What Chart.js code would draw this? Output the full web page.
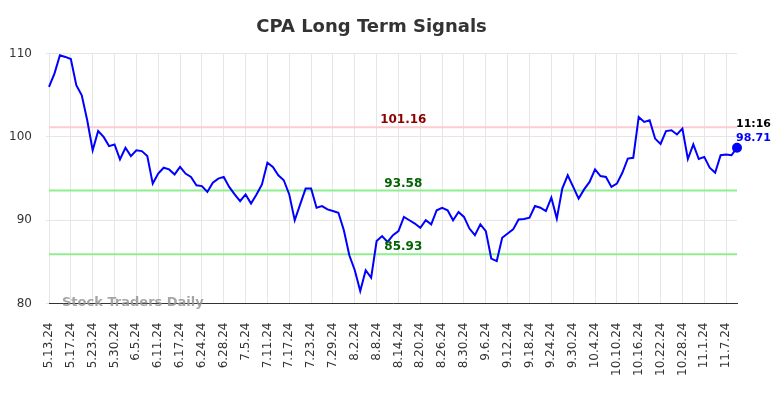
<!DOCTYPE html>
<html>
<head>
<meta charset="utf-8">
<script src="https://cdn.jsdelivr.net/npm/chart.js@4.4.1/dist/chart.umd.min.js"></script>
<style>
  html, body { margin: 0; padding: 0; background: #fff; }
  #wrap { width: 784px; height: 398px; }
</style>
</head>
<body>
<div id="wrap"><canvas id="c" width="784" height="398"></canvas></div>
<script>
const dates = [
  '5.13.24','5.14.24','5.15.24','5.16.24','5.17.24','5.20.24','5.21.24','5.22.24','5.23.24','5.24.24',
  '5.28.24','5.29.24','5.30.24','5.31.24','6.3.24','6.4.24','6.5.24','6.6.24','6.7.24','6.10.24',
  '6.11.24','6.12.24','6.13.24','6.14.24','6.17.24','6.18.24','6.20.24','6.21.24','6.24.24','6.25.24',
  '6.26.24','6.27.24','6.28.24','7.1.24','7.2.24','7.3.24','7.5.24','7.8.24','7.9.24','7.10.24',
  '7.11.24','7.12.24','7.15.24','7.16.24','7.17.24','7.18.24','7.19.24','7.22.24','7.23.24','7.24.24',
  '7.25.24','7.26.24','7.29.24','7.30.24','7.31.24','8.1.24','8.2.24','8.5.24','8.6.24','8.7.24',
  '8.8.24','8.9.24','8.12.24','8.13.24','8.14.24','8.15.24','8.16.24','8.19.24','8.20.24','8.21.24',
  '8.22.24','8.23.24','8.26.24','8.27.24','8.28.24','8.29.24','8.30.24','9.3.24','9.4.24','9.5.24',
  '9.6.24','9.9.24','9.10.24','9.11.24','9.12.24','9.13.24','9.16.24','9.17.24','9.18.24','9.19.24',
  '9.20.24','9.23.24','9.24.24','9.25.24','9.26.24','9.27.24','9.30.24','10.1.24','10.2.24','10.3.24',
  '10.4.24','10.7.24','10.8.24','10.9.24','10.10.24','10.11.24','10.14.24','10.15.24','10.16.24','10.17.24',
  '10.18.24','10.21.24','10.22.24','10.23.24','10.24.24','10.25.24','10.28.24','10.29.24','10.30.24','10.31.24',
  '11.1.24','11.4.24','11.5.24','11.6.24','11.7.24','11.8.24','11.11.24'
];
const prices = [
  106.0,107.6,109.8,109.6,109.35,106.2,105.0,102.0,98.4,100.7,
  100.0,98.9,99.1,97.3,98.7,97.7,98.4,98.3,97.7,94.4,
  95.6,96.3,96.1,95.5,96.4,95.6,95.2,94.2,94.1,93.4,
  94.5,95.0,95.2,94.0,93.1,92.3,93.1,92.0,93.1,94.3,
  96.9,96.4,95.4,94.8,93.1,90.0,91.9,93.8,93.8,91.5,
  91.7,91.3,91.1,90.9,88.8,85.8,84.0,81.5,84.0,83.1,
  87.5,88.1,87.4,88.2,88.7,90.4,90.0,89.6,89.1,90.0,
  89.5,91.2,91.5,91.2,90.0,91.0,90.4,89.0,88.2,89.5,
  88.7,85.4,85.1,87.9,88.4,88.9,90.1,90.15,90.3,91.7,
  91.5,91.1,92.7,90.2,93.8,95.4,94.0,92.6,93.7,94.6,
  96.1,95.3,95.2,94.0,94.4,95.7,97.4,97.5,102.4,101.8,
  102.0,99.8,99.15,100.7,100.8,100.3,101.0,97.35,99.1,97.35,
  97.6,96.3,95.7,97.8,97.9,97.8,98.71
];
const yTicks = [80, 90, 100, 110];
const resistance = [101.16];
const supports = [93.58, 85.93];
const lastTime = '11:16';
const titleText = 'CPA Long Term Signals';
const watermark = 'Stock Traders Daily';

const levelPlugin = {
  id: 'levels',
  beforeDatasetsDraw(chart) {
    const {ctx, chartArea: a, scales: {y}} = chart;
    ctx.save();
    ctx.lineWidth = 2;
    resistance.forEach(v => {
      const py = y.getPixelForValue(v);
      ctx.strokeStyle = '#ffcccc';
      ctx.beginPath(); ctx.moveTo(a.left, py); ctx.lineTo(a.right, py); ctx.stroke();
    });
    supports.forEach(v => {
      const py = y.getPixelForValue(v);
      ctx.strokeStyle = '#90ee90';
      ctx.beginPath(); ctx.moveTo(a.left, py); ctx.lineTo(a.right, py); ctx.stroke();
    });
    ctx.font = 'bold 13px "DejaVu Sans"';
    ctx.fillStyle = 'rgba(150,150,150,0.85)';
    ctx.textAlign = 'left';
    ctx.textBaseline = 'middle';
    ctx.fillText(watermark, a.left + 13, a.bottom - 1);
    ctx.restore();
  },
  afterDatasetsDraw(chart) {
    const {ctx, chartArea: a, scales: {x, y}} = chart;
    ctx.save();
    ctx.font = 'bold 12px "DejaVu Sans"';
    ctx.textAlign = 'center';
    ctx.textBaseline = 'bottom';
    const cx = a.left + (a.right - a.left) * 0.515;
    resistance.forEach(v => {
      ctx.fillStyle = '#8b0000';
      ctx.fillText(v.toFixed(2), cx, y.getPixelForValue(v) - 1);
    });
    supports.forEach(v => {
      ctx.fillStyle = '#006400';
      ctx.fillText(v.toFixed(2), cx, y.getPixelForValue(v) - 1);
    });
    const li = prices.length - 1;
    const px = x.getPixelForValue(li);
    const py = y.getPixelForValue(prices[li]);
    ctx.font = 'bold 11px "DejaVu Sans"';
    ctx.textAlign = 'left';
    ctx.textBaseline = 'middle';
    ctx.fillStyle = '#000';
    ctx.fillText(lastTime, px - 1, py - 24);
    ctx.fillStyle = '#0000ff';
    ctx.fillText(prices[li].toFixed(2), px - 1, py - 10);
    ctx.restore();
  }
};

new Chart(document.getElementById('c'), {
  type: 'line',
  data: {
    labels: dates,
    datasets: [{
      data: prices,
      borderColor: '#0000ff',
      backgroundColor: '#0000ff',
      borderWidth: 2,
      tension: 0,
      pointRadius: prices.map((_, i) => i === prices.length - 1 ? 4 : 0),
      pointHoverRadius: 0,
      fill: false
    }]
  },
  options: {
    responsive: false,
    animation: false,
    devicePixelRatio: 1,
    layout: { padding: { left: 6, right: 47, top: 0, bottom: 3 } },
    plugins: {
      legend: { display: false },
      tooltip: { enabled: false },
      title: {
        display: true,
        text: titleText,
        color: '#333333',
        font: { family: '"DejaVu Sans"', size: 18, weight: 'bold' },
        padding: { top: 17, bottom: 15 }
      }
    },
    scales: {
      x: {
        type: 'category',
        offset: false,
        grid: { color: '#e6e6e6', lineWidth: 1, drawTicks: false },
        border: { display: true, color: '#333333', width: 1 },
        ticks: {
          autoSkip: false,
          maxRotation: 90,
          minRotation: 90,
          padding: 19,
          color: '#333333',
          font: { family: '"DejaVu Sans"', size: 12 },
          callback: function(val, idx) { return idx % 4 === 0 ? dates[idx] : null; }
        }
      },
      y: {
        min: 80,
        max: 110,
        afterBuildTicks: (s) => { s.ticks = yTicks.map(v => ({ value: v })); },
        afterFit: (s) => { s.width = 43; },
        grid: { color: '#e6e6e6', lineWidth: 1, tickLength: 3 },
        border: { display: false },
        ticks: {
          padding: 14,
          color: '#333333',
          font: { family: '"DejaVu Sans"', size: 12 }
        }
      }
    }
  },
  plugins: [levelPlugin]
});
</script>
</body>
</html>
